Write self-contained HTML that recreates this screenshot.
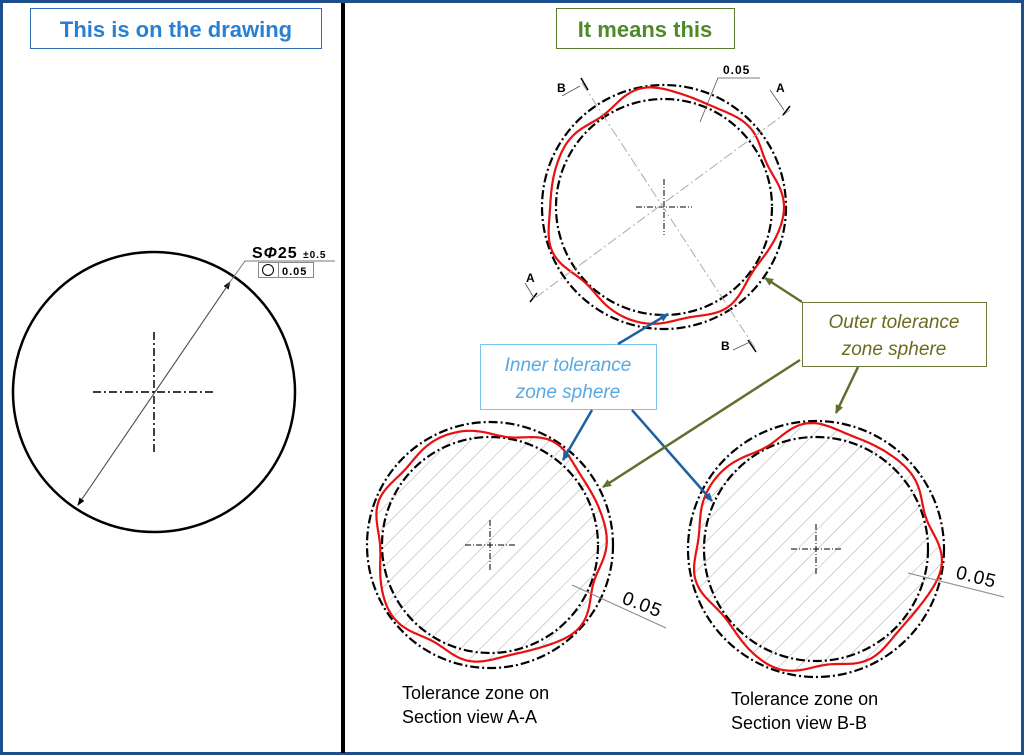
<!DOCTYPE html>
<html><head><meta charset="utf-8"><style>
html,body{margin:0;padding:0;background:#fff}
svg{display:block}
</style></head><body>
<svg id="s" width="1024" height="755" viewBox="0 0 1024 755" xmlns="http://www.w3.org/2000/svg" font-family="Liberation Sans, Arial, sans-serif">
<defs>
<pattern id="h" patternUnits="userSpaceOnUse" width="14" height="14" patternTransform="rotate(45)">
<line x1="0" y1="0" x2="0" y2="14" stroke="#aaa" stroke-width="1"/>
</pattern>
<marker id="ab" markerWidth="10" markerHeight="10" refX="8" refY="5" orient="auto" markerUnits="userSpaceOnUse"><path d="M0,1 L9,5 L0,9z" fill="#1f5fa0"/></marker>
<marker id="ag" markerWidth="10" markerHeight="10" refX="8" refY="5" orient="auto" markerUnits="userSpaceOnUse"><path d="M0,1 L9,5 L0,9z" fill="#5f7030"/></marker>
<marker id="ak" markerWidth="8" markerHeight="8" refX="7" refY="4" orient="auto" markerUnits="userSpaceOnUse"><path d="M0,1 L8,4 L0,7z" fill="#000"/></marker>
</defs>
<rect x="1.5" y="1.5" width="1021" height="752" fill="none" stroke="#1f4f8a" stroke-width="3"/>
<rect x="341" y="3" width="4" height="750" fill="#000"/>

<rect x="30.5" y="8.5" width="291" height="40" fill="#fff" stroke="#2f6fb8"/>
<text x="176" y="37" text-anchor="middle" font-size="22" font-weight="bold" fill="#2a80d0">This is on the drawing</text>
<rect x="556.5" y="8.5" width="178" height="40" fill="#fff" stroke="#5a7a30"/>
<text x="645" y="37" text-anchor="middle" font-size="22" font-weight="bold" fill="#4e8a2a">It means this</text>

<!-- left -->
<ellipse cx="154" cy="392" rx="141" ry="140" fill="none" stroke="#000" stroke-width="2.5"/>
<g stroke="#000" stroke-width="1.5" stroke-dasharray="8,3,2,3">
<line x1="93" y1="392" x2="215" y2="392"/><line x1="154" y1="332" x2="154" y2="455"/></g>
<line x1="78" y1="505" x2="230" y2="282" stroke="#555" stroke-width="1" marker-end="url(#ak)"/>
<line x1="230" y1="282" x2="78" y2="505" stroke="#555" stroke-width="1" marker-end="url(#ak)"/>
<polyline points="230,282 245,261 335,261" fill="none" stroke="#777" stroke-width="1"/>
<text x="252" y="258" font-size="16" font-weight="bold" letter-spacing="1">S<tspan font-style="italic">Φ</tspan>25 <tspan font-size="10">±0.5</tspan></text>
<rect x="258.5" y="262.5" width="55" height="15" fill="none" stroke="#888"/>
<line x1="278.5" y1="262" x2="278.5" y2="278" stroke="#888"/>
<circle cx="268" cy="270" r="5.5" fill="none" stroke="#000"/>
<text x="282" y="275" font-size="11" font-weight="bold" letter-spacing="1">0.05</text>

<g id="dyn"></g>

<g stroke="#aaa" stroke-width="1" stroke-dasharray="10,3,2,3">
<line x1="582" y1="83" x2="755" y2="348"/><line x1="790" y1="110" x2="535" y2="298"/></g>
<g stroke="#000" stroke-width="1.5" fill="none">
<line x1="581" y1="78" x2="588" y2="90"/><line x1="748" y1="340" x2="756" y2="352"/>
<line x1="783" y1="115" x2="790" y2="106"/><line x1="530" y1="302" x2="537" y2="293"/></g>
<g stroke="#555" stroke-width="0.8">
<line x1="562" y1="96" x2="580" y2="86"/><line x1="733" y1="350" x2="750" y2="342"/>
<line x1="770" y1="90" x2="784" y2="110"/><line x1="525" y1="283" x2="534" y2="298"/>
<polyline points="700,122 718,78 760,78" fill="none"/></g>
<g font-size="12" font-weight="bold">
<text x="557" y="92">B</text><text x="721" y="350">B</text>
<text x="776" y="92">A</text><text x="526" y="282">A</text>
<text x="723" y="74" letter-spacing="1">0.05</text></g>

<line x1="572" y1="585" x2="666" y2="628" stroke="#888" stroke-width="1"/>
<text transform="translate(621,603) rotate(21)" font-size="19" letter-spacing="1">0.05</text>
<line x1="908" y1="573" x2="1004" y2="597" stroke="#888" stroke-width="1"/>
<text transform="translate(955,578) rotate(14)" font-size="19" letter-spacing="1">0.05</text>

<rect x="480.5" y="344.5" width="176" height="65" fill="#fff" stroke="#7cc4f0"/>
<text x="568" y="371" text-anchor="middle" font-size="19" font-style="italic" fill="#5aa8e0">Inner tolerance</text>
<text x="568" y="398" text-anchor="middle" font-size="19" font-style="italic" fill="#5aa8e0">zone sphere</text>
<rect x="802.5" y="302.5" width="184" height="64" fill="#fff" stroke="#6b7a3a"/>
<text x="894" y="328" text-anchor="middle" font-size="19" font-style="italic" fill="#6b6b1f">Outer tolerance</text>
<text x="894" y="355" text-anchor="middle" font-size="19" font-style="italic" fill="#6b6b1f">zone sphere</text>

<g stroke="#1f5fa0" stroke-width="2.5" marker-end="url(#ab)">
<line x1="618" y1="344" x2="668" y2="314"/>
<line x1="592" y1="410" x2="563" y2="460"/>
<line x1="632" y1="410" x2="712" y2="501"/></g>
<g stroke="#5f7030" stroke-width="2.5" marker-end="url(#ag)">
<polyline points="802,302 765,278" fill="none"/>
<line x1="800" y1="360" x2="603" y2="487"/>
<line x1="858" y1="367" x2="836" y2="413"/></g>

<g font-size="18">
<text x="402" y="699">Tolerance zone on</text>
<text x="402" y="723">Section view A-A</text>
<text x="731" y="705">Tolerance zone on</text>
<text x="731" y="729">Section view B-B</text></g>
</svg>
<script>
(function(){
var ns="http://www.w3.org/2000/svg",g=document.getElementById("dyn");
function el(t,a){var e=document.createElementNS(ns,t);for(var k in a)e.setAttribute(k,a[k]);g.appendChild(e);return e;}
function wav(cx,cy,ri,ro,seed){
 var d="",n=240;
 for(var i=0;i<=n;i++){var t=i/n*2*Math.PI;
  var w=0.5+0.25*Math.sin(7*t+seed)+0.15*Math.sin(4*t+2*seed)+0.06*Math.sin(11*t+seed*3);
  var r=ri+(ro-ri)*Math.max(0.08,Math.min(0.92,w));
  d+=(i?"L":"M")+(cx+r*Math.cos(t)).toFixed(1)+","+(cy+r*Math.sin(t)).toFixed(1);}
 return d+"Z";}
function fig(cx,cy,ri,ro,seed,hatch,id){
 var p=wav(cx,cy,ri,ro,seed);
 if(hatch){var cp=document.createElementNS(ns,"clipPath");cp.setAttribute("id",id);
  var pp=document.createElementNS(ns,"path");pp.setAttribute("d",p);cp.appendChild(pp);g.appendChild(cp);
  el("rect",{x:cx-ro,y:cy-ro,width:2*ro,height:2*ro,fill:"url(#h)","clip-path":"url(#"+id+")"});}
 var dd="9,3,2,3";
 el("circle",{cx:cx,cy:cy,r:ro,fill:"none",stroke:"#000","stroke-width":2.2,"stroke-dasharray":dd});
 el("circle",{cx:cx,cy:cy,r:ri,fill:"none",stroke:"#000","stroke-width":2.2,"stroke-dasharray":dd});
 el("path",{d:p,fill:"none",stroke:"#e81010","stroke-width":2.2});
 var s=hatch?25:28;
 el("line",{x1:cx-s,y1:cy,x2:cx+s,y2:cy,stroke:"#000","stroke-width":1,"stroke-dasharray":"6,2,1,2"});
 el("line",{x1:cx,y1:cy-s,x2:cx,y2:cy+s,stroke:"#000","stroke-width":1,"stroke-dasharray":"6,2,1,2"});
}
fig(664,207,108,122,1.0,false,"c0");
fig(490,545,108,123,2.3,true,"c1");
fig(816,549,112,128,0.4,true,"c2");
})();
</script>
</body></html>
